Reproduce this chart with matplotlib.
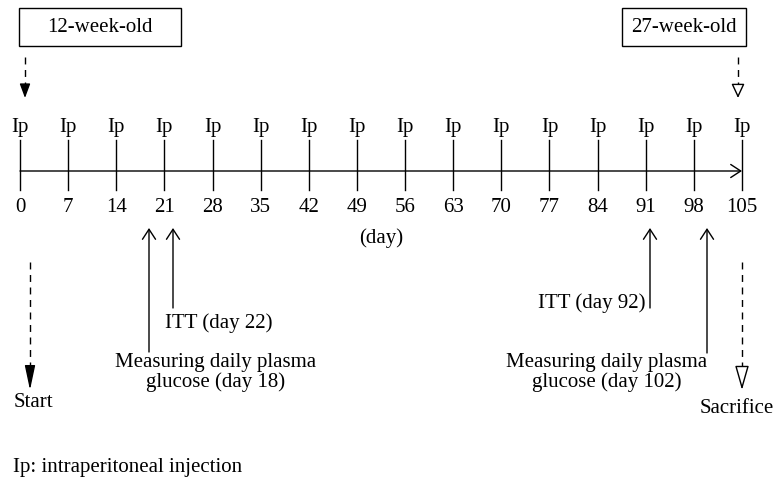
import matplotlib.pyplot as plt
from matplotlib.patches import Rectangle

# === DATEN ===
days = list(range(0, 106, 7))
inj_labels = ["Ip"] * len(days)
age_labels = ["12-week-old", "27-week-old"]
glucose_lines = [["Measuring daily plasma", "glucose (day 18)"],
                 ["Measuring daily plasma", "glucose (day 102)"]]
itt_labels = ["ITT (day 22)", "ITT (day 92)"]
footnote = "Ip: intraperitoneal injection"

# === LAYOUT (Pixel) ===
PX_PER_DAY = 722 / 105
X0 = 20
Y_LINE = 171

plt.rcParams['font.family'] = ['Liberation Serif', 'DejaVu Serif']
FS = 15

fig = plt.figure(figsize=(7.76, 4.82), dpi=100)
ax = fig.add_axes([0, 0, 1, 1])
ax.set_xlim(-X0 / PX_PER_DAY, (776 - X0) / PX_PER_DAY)
ax.set_ylim(482, 0)
ax.axis("off")

def px(x):
    return (x - X0) / PX_PER_DAY

def txt(x, y, s, ha="center"):
    ax.text(px(x), y, s, ha=ha, va="baseline", fontsize=FS)

OPEN = "->,head_length=0.72,head_width=0.47"

# Zeitachse
ax.annotate("", xy=(days[-1], Y_LINE), xytext=(days[0], Y_LINE),
            arrowprops=dict(arrowstyle=OPEN, lw=1, color="black",
                            shrinkA=0, shrinkB=0, mutation_scale=10))
for d, lab in zip(days, inj_labels):
    ax.plot([d, d], [140, 190], color="black", lw=1)
    ax.text(d, 132, lab, ha="center", va="baseline", fontsize=FS)
    ax.text(d, 212, str(d), ha="center", va="baseline", fontsize=FS)
txt(381, 243, "(day)")

# Altersboxen
for (x1, x2), lab in zip([(19, 181), (622, 746)], age_labels):
    ax.add_patch(Rectangle((px(x1), 8), px(x2) - px(x1), 38,
                           fill=False, lw=1, ec="black"))
    txt((x1 + x2) / 2, 32, lab)

# gestrichelte Pfeile
def dashed(x, y1, y2, hl, hw, filled):
    ax.plot([px(x), px(x)], [y1, y2 - hl], color="black", lw=1, ls=(0, (5, 4)))
    style = "-|>,head_length=%.2f,head_width=%.2f" % (hl / 13.9, hw / 13.9)
    ax.annotate("", xy=(px(x), y2), xytext=(px(x), y2 - hl - 1),
                arrowprops=dict(arrowstyle=style, lw=1, color="black",
                                fc="black" if filled else "white",
                                shrinkA=0, shrinkB=0, mutation_scale=10))

dashed(25, 57, 98, 12, 4.5, True)
dashed(738, 57, 98, 12, 5.5, False)
dashed(30, 262, 390, 21, 4.5, True)
dashed(742, 262, 390, 21, 6, False)
txt(33, 407, "Start")
txt(774, 413, "Sacrifice", ha="right")

# Ereignispfeile
arrow_x = [149, 173, 650, 707]
bottoms = [352, 308, 308, 353]
for x, yb in zip(arrow_x, bottoms):
    ax.annotate("", xy=(px(x), 228), xytext=(px(x), yb),
                arrowprops=dict(arrowstyle=OPEN, lw=1, color="black",
                                shrinkA=0, shrinkB=0, mutation_scale=10))

txt(219, 328, itt_labels[0])
txt(645, 308, itt_labels[1], ha="right")
for cx, lines in zip([216, 607], glucose_lines):
    txt(cx, 367, lines[0])
    txt(cx, 387, lines[1])

txt(13, 472, footnote, ha="left")

fig.savefig("out.png", dpi=100)
